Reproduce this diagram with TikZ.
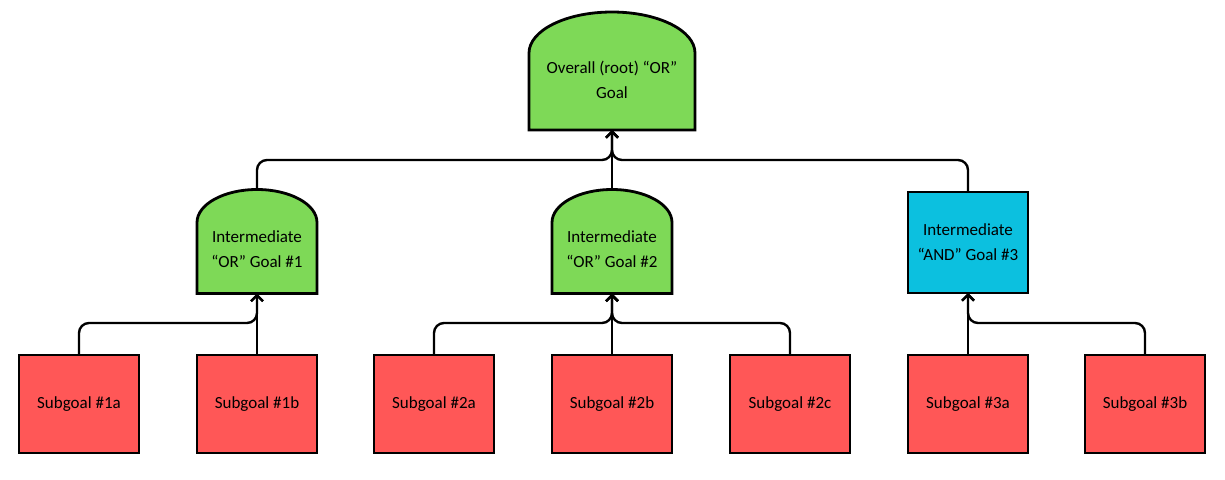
\documentclass[tikz,border=0pt]{standalone}
\usepackage{fontspec}
\setmainfont{Carlito}
\usetikzlibrary{arrows.meta}
\usetikzlibrary{backgrounds}

\definecolor{orgreen}{HTML}{7ED957}
\definecolor{andblue}{HTML}{0CC0DF}
\definecolor{subred}{HTML}{FF5757}

\begin{document}
\begin{tikzpicture}
  [x=1pt, y=-1pt,
  every node/.style={font=\fontsize{17}{25}\selectfont, align=center},
  goal/.style={rectangle, line width=2.8pt, outer sep=0pt, minimum width=120pt},
  subgoal/.style={goal, draw, fill=subred, minimum height=98pt},
  andgoal/.style={goal, draw, fill=andblue, minimum height=101pt},
  orgoal/.style={goal, minimum height=88pt},
  dome/.style={draw, fill=orgreen, line width=2.8pt},
  link/.style={line width=2.4pt, rounded corners=10pt, -{Straight Barb[length=6pt, width=12pt]}}]
\useasboundingbox (0,0) rectangle (1225,479);

% root goal
\node [orgoal, minimum width=166pt, minimum height=100pt] (root) at (612,80) {Overall (root) “OR”\\Goal};

% intermediate goals
\node [orgoal] (or1) at (257,249.5) {Intermediate\\“OR” Goal \#1};
\node [orgoal] (or2) at (612,249.5) {Intermediate\\“OR” Goal \#2};
\node [andgoal] (and3) at (968,242.5) {Intermediate\\“AND” Goal \#3};

% subgoals
\foreach \name/\x in {1a/79, 1b/257, 2a/434, 2b/612, 2c/790, 3a/968, 3b/1145}
  \node [subgoal] (sub\name) at (\x,404) {Subgoal \#\name};

% "OR" domes behind the text
\begin{scope}[on background layer]
\foreach \n/\rx/\ry/\drop in {root/83/41/23, or1/60/33/17, or2/60/33/17}
  \draw [dome] (\n.south west) -- ([yshift=-\drop pt]\n.north west)
    arc [start angle=180, end angle=0, x radius=\rx pt, y radius=\ry pt]
    -- (\n.south east) -- cycle;
\end{scope}
\coordinate (or1top) at ([yshift=16pt]or1.north);
\coordinate (or2top) at ([yshift=16pt]or2.north);

% connectors
\coordinate (bus1) at (0,160);
\coordinate (bus2) at (0,323);
\foreach \c in {or1top, or2top, and3.north}
  \draw [link] (\c) -- (\c |- bus1) -| (root.south);
\foreach \c/\p in {1a/or1, 1b/or1, 2a/or2, 2b/or2, 2c/or2, 3a/and3, 3b/and3}
  \draw [link] (sub\c.north) -- (sub\c.north |- bus2) -| (\p.south);
\end{tikzpicture}
\end{document}
